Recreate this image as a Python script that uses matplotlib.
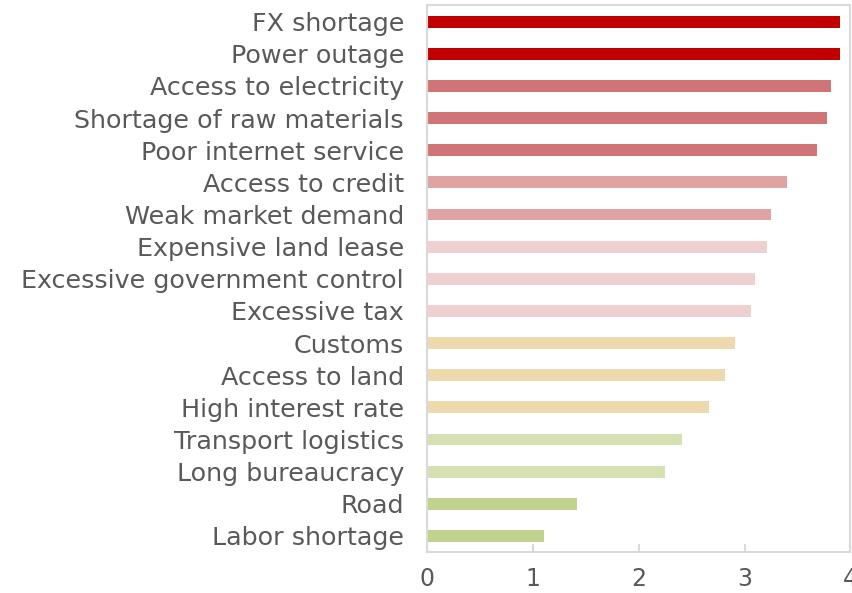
import matplotlib.pyplot as plt

## data (top to bottom)
labels = ["FX shortage", "Power outage", "Access to electricity",
          "Shortage of raw materials", "Poor internet service",
          "Access to credit", "Weak market demand", "Expensive land lease",
          "Excessive government control", "Excessive tax", "Customs",
          "Access to land", "High interest rate", "Transport logistics",
          "Long bureaucracy", "Road", "Labor shortage"]
scores = [3.90, 3.90, 3.82, 3.78, 3.68, 3.40, 3.25, 3.21, 3.10, 3.06,
          2.91, 2.81, 2.66, 2.41, 2.25, 1.41, 1.10]
groups = [0, 0, 1, 1, 1, 2, 2, 3, 3, 3, 4, 4, 4, 5, 5, 6, 6]
xticks = [0, 1, 2, 3, 4]

palette = ["#C00000", "#D07575", "#E0A3A3", "#EFD0D2",
           "#EED8AE", "#D5E1B3", "#BFD38D"]
grey = "#595959"
frame = "#D9D9D9"

plt.rcParams['font.family'] = ['DejaVu Sans']

fig = plt.figure(figsize=(8.53, 5.93), dpi=100)
ax = fig.add_axes([427.5 / 853, 41 / 593, 423 / 853, 547 / 593])

ypos = list(range(len(labels)))
ax.barh(ypos, scores, height=0.37, color=[palette[g] for g in groups])

ax.set_xlim(0, 4)
ax.set_ylim(len(labels) - 0.5, -0.52)
ax.set_yticks(ypos)
ax.set_yticklabels(labels)
ax.set_xticks(xticks)
ax.set_xticklabels([str(t) for t in xticks])

for s in ax.spines.values():
    s.set_color(frame)
    s.set_linewidth(1.5)

ax.tick_params(axis='y', length=0, pad=17, labelsize=18.3, labelcolor=grey)
ax.tick_params(axis='x', direction='in', length=6, width=1.5, color=frame,
               pad=11, labelsize=17, labelcolor=grey)

fig.savefig("out.png", dpi=100)
